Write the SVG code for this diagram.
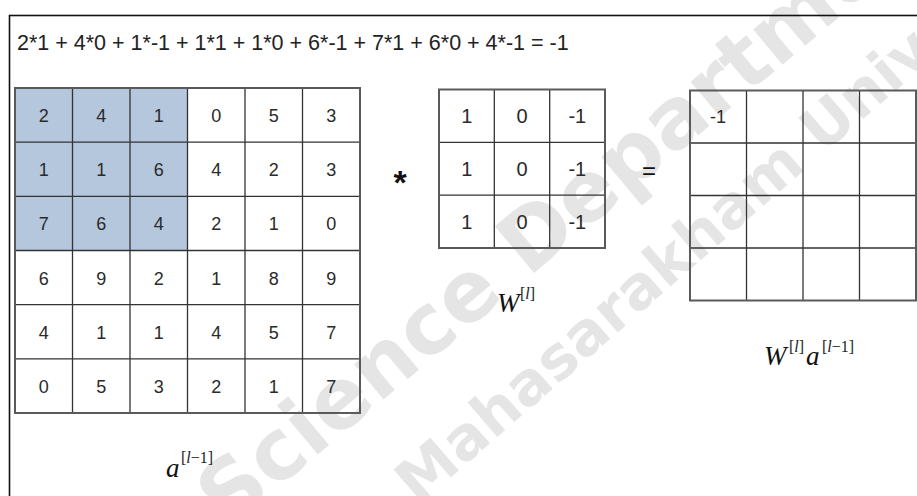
<svg xmlns="http://www.w3.org/2000/svg" width="917" height="496" viewBox="0 0 917 496">
<style>
.frame{fill:none;stroke:#111;stroke-width:1.6}
.inner{stroke:#333;stroke-width:1.3;fill:none}
.outer{fill:none;stroke:#5a5a5a;stroke-width:2}
.shade{fill:#b4c7dc}
.d{font-family:"Liberation Sans",Arial,sans-serif;font-size:18px;fill:#2a2a2a;text-anchor:middle}
.k{font-family:"Liberation Sans",Arial,sans-serif;font-size:20px;fill:#2a2a2a;text-anchor:middle}
.eq{font-family:"Liberation Sans",Arial,sans-serif;font-size:21.5px;fill:#222}
.mi{font-family:"Liberation Serif","Times New Roman",serif;font-style:italic;font-size:27px;fill:#111}
.sup{font-family:"Liberation Serif","Times New Roman",serif;font-size:16px;fill:#222}
.it{font-style:italic}
.op{font-family:"Liberation Sans",Arial,sans-serif;fill:#111}
.wm{font-family:"DejaVu Sans","Liberation Sans",sans-serif;font-weight:bold;fill:#000;fill-opacity:0.1}
</style>
<rect width="917" height="496" fill="#fff"/>

<g id="watermark">
<text class="wm" font-size="84" transform="translate(228 530) rotate(-40)">Science Department</text>
<text class="wm" font-size="60" transform="translate(418 506) rotate(-41)">Mahasarakham University</text>
</g>

<rect class="frame" x="9.5" y="15.5" width="1000" height="600"/>

<g id="formula">
<text class="eq" x="17" y="50">2*1 + 4*0 + 1*-1 + 1*1 + 1*0 + 6*-1 + 7*1 + 6*0 + 4*-1 = -1</text>
</g>

<g id="input-matrix">
<rect class="shade" x="15" y="88" width="172.5" height="162.5"/>
<path class="inner" d="M72.5 88V413M130 88V413M187.5 88V413M245 88V413M302.5 88V413M15 142.2H360M15 196.3H360M15 250.5H360M15 304.7H360M15 358.8H360"/>
<rect class="outer" x="15" y="88" width="345" height="325"/>
<g>
<text class="d" x="43.75" y="122">2</text><text class="d" x="101.25" y="122">4</text><text class="d" x="158.75" y="122">1</text><text class="d" x="216.25" y="122">0</text><text class="d" x="273.75" y="122">5</text><text class="d" x="331.25" y="122">3</text>
<text class="d" x="43.75" y="176.2">1</text><text class="d" x="101.25" y="176.2">1</text><text class="d" x="158.75" y="176.2">6</text><text class="d" x="216.25" y="176.2">4</text><text class="d" x="273.75" y="176.2">2</text><text class="d" x="331.25" y="176.2">3</text>
<text class="d" x="43.75" y="230.3">7</text><text class="d" x="101.25" y="230.3">6</text><text class="d" x="158.75" y="230.3">4</text><text class="d" x="216.25" y="230.3">2</text><text class="d" x="273.75" y="230.3">1</text><text class="d" x="331.25" y="230.3">0</text>
<text class="d" x="43.75" y="284.5">6</text><text class="d" x="101.25" y="284.5">9</text><text class="d" x="158.75" y="284.5">2</text><text class="d" x="216.25" y="284.5">1</text><text class="d" x="273.75" y="284.5">8</text><text class="d" x="331.25" y="284.5">9</text>
<text class="d" x="43.75" y="338.7">4</text><text class="d" x="101.25" y="338.7">1</text><text class="d" x="158.75" y="338.7">1</text><text class="d" x="216.25" y="338.7">4</text><text class="d" x="273.75" y="338.7">5</text><text class="d" x="331.25" y="338.7">7</text>
<text class="d" x="43.75" y="392.8">0</text><text class="d" x="101.25" y="392.8">5</text><text class="d" x="158.75" y="392.8">3</text><text class="d" x="216.25" y="392.8">2</text><text class="d" x="273.75" y="392.8">1</text><text class="d" x="331.25" y="392.8">7</text>
</g>
<text class="mi" x="166" y="477">a</text>
<text class="sup" x="181" y="463">[<tspan class="it">l</tspan>−1]</text>
</g>

<g id="op-star">
<text class="op" x="400" y="194" font-size="34" font-weight="bold" text-anchor="middle">*</text>
</g>

<g id="kernel">
<path class="inner" d="M494.3 89.5V248M549.7 89.5V248M439 142.3H605M439 195.2H605"/>
<rect class="outer" x="439" y="89.5" width="166" height="158.5"/>
<text class="k" x="466.7" y="123">1</text><text class="k" x="522" y="123">0</text><text class="k" x="577.3" y="123">-1</text>
<text class="k" x="466.7" y="176">1</text><text class="k" x="522" y="176">0</text><text class="k" x="577.3" y="176">-1</text>
<text class="k" x="466.7" y="229">1</text><text class="k" x="522" y="229">0</text><text class="k" x="577.3" y="229">-1</text>
<text class="mi" x="497" y="312">W</text>
<text class="sup" x="520" y="299">[<tspan class="it">l</tspan>]</text>
</g>

<g id="op-equals">
<text class="op" x="649" y="179" font-size="24" text-anchor="middle">=</text>
</g>

<g id="output">
<path class="inner" d="M746.5 90.5V300.5M803 90.5V300.5M859.5 90.5V300.5M690 143H916M690 195.5H916M690 248H916"/>
<rect class="outer" x="690" y="90.5" width="226" height="210"/>
<text class="d" x="718" y="123" font-size="19">-1</text>
<text class="mi" x="764" y="365">W</text>
<text class="sup" x="789" y="352">[<tspan class="it">l</tspan>]</text>
<text class="mi" x="806" y="365">a</text>
<text class="sup" x="822" y="352">[<tspan class="it">l</tspan>−1]</text>
</g>
</svg>
